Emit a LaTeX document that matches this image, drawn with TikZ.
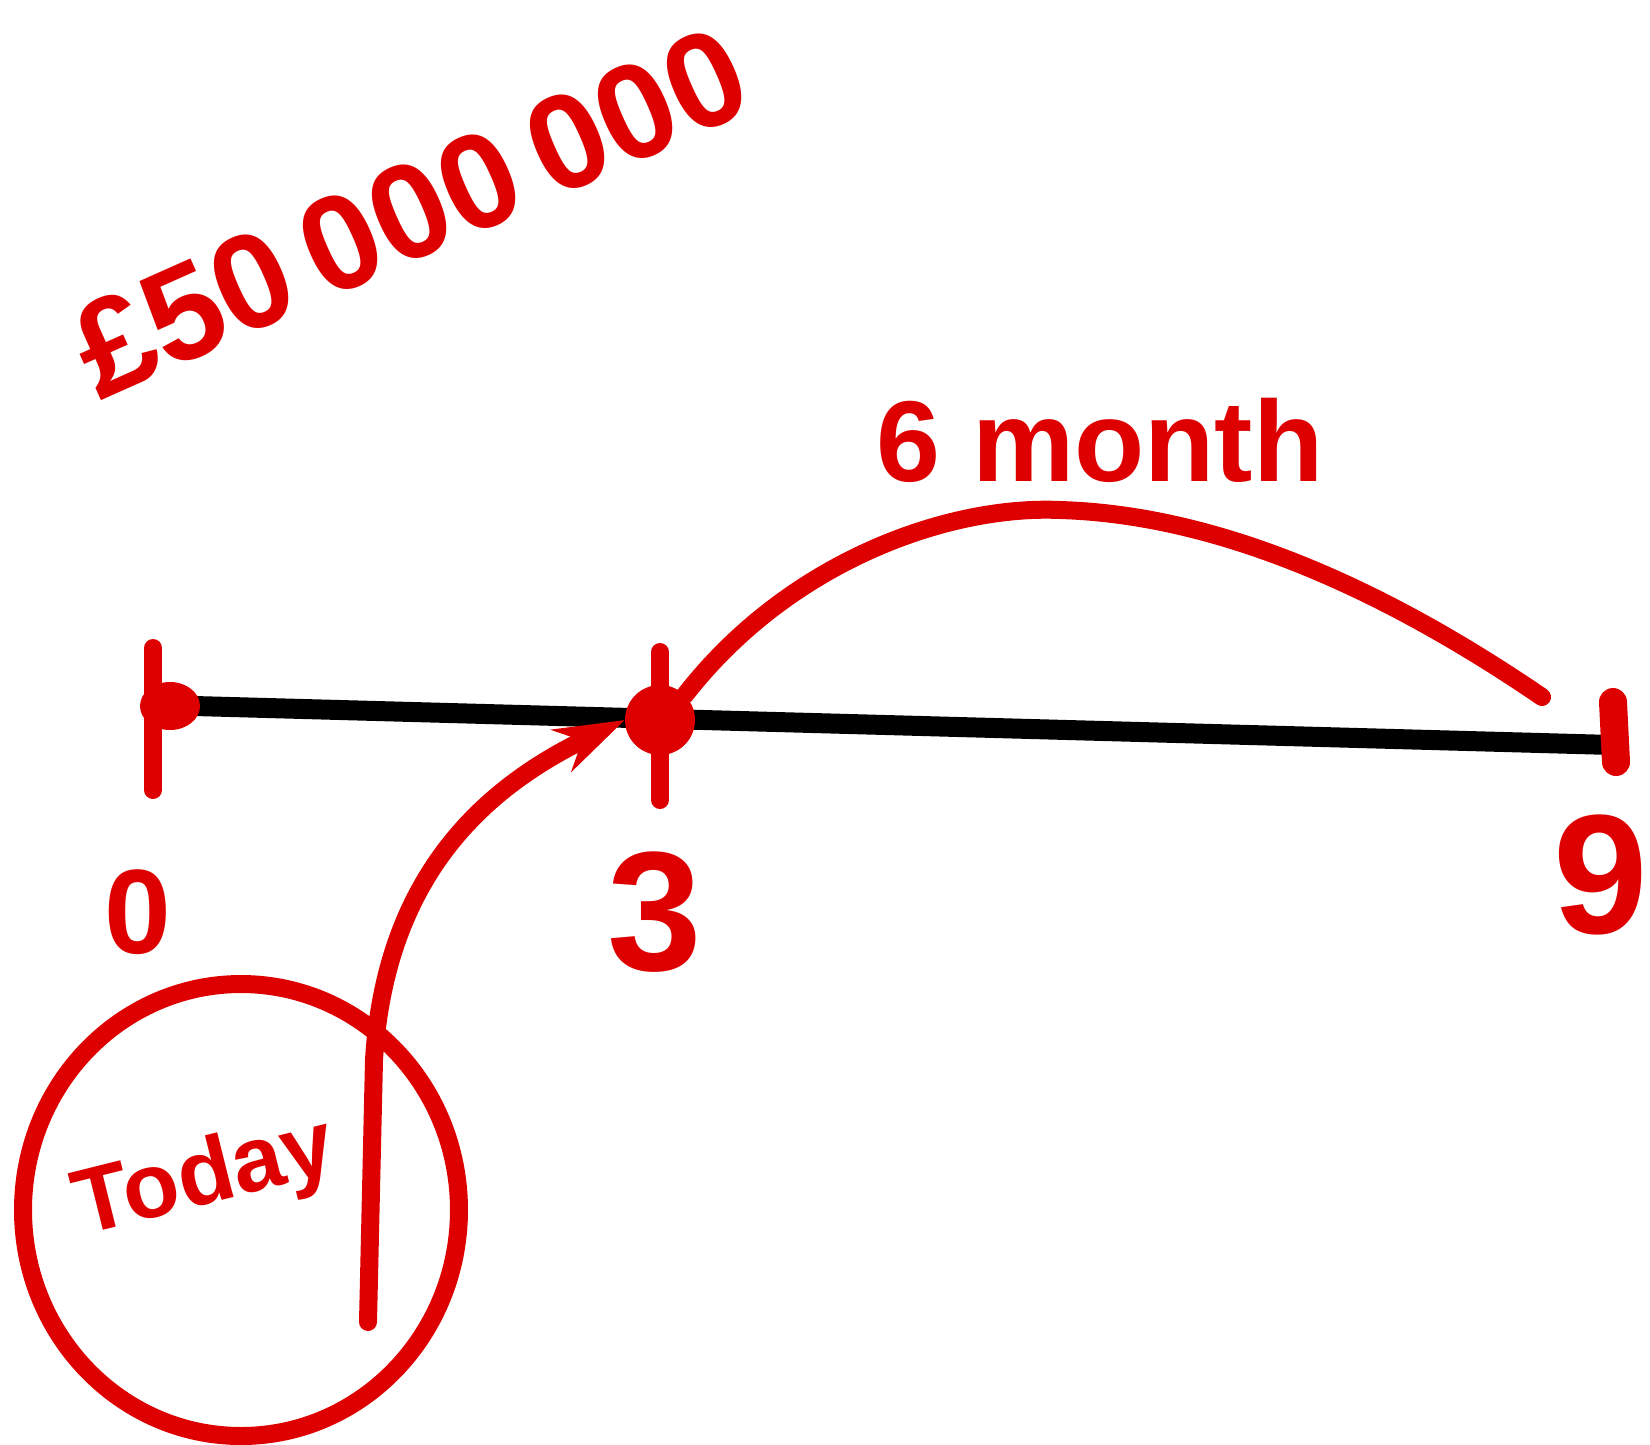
\documentclass[tikz,border=0pt]{standalone}
\usepackage{fontspec}
\setmainfont{Liberation Sans}
\usetikzlibrary{arrows.meta,shapes.geometric}
\definecolor{inkred}{RGB}{222,0,0}
\tikzset{
  redline/.style={draw=inkred, line width=18pt, line cap=round, line join=round},
  redtext/.style={text=inkred, inner sep=0pt, font=\bfseries},
}
\begin{document}
\begin{tikzpicture}[x=1pt,y=-1pt]
\useasboundingbox (0,0) rectangle (1650,1444);
% timeline
\coordinate (t0) at (158,705);
\coordinate (t9) at (1613,745);
\draw[line width=20pt] (t0) -- (t9);
% ticks
\draw[redline] (153,648) -- (153,790);
\fill[inkred] (170,706) ellipse (30pt and 24pt);
\node[circle, fill=inkred, minimum size=70pt, inner sep=0pt] (t3) at (660,720) {};
\draw[redline] (660,652) -- (660,800);
\draw[redline, line width=28pt] (1613,702) -- (1616,762);
% labels
\node[redtext, font=\bfseries\fontsize{120}{120}\selectfont] (l0) at (138,912) {0};
\node[redtext, font=\bfseries\fontsize{170}{170}\selectfont] (l3) at (655,912) {3};
\node[redtext, font=\bfseries\fontsize{170}{170}\selectfont, anchor=north east] (l9) at (1648,815) {9};
% money
\node[redtext, rotate=24, font=\bfseries\fontsize{135}{135}\selectfont] (money) at (410,212) {£50\,000\,000};
% 6 month arc
\coordinate (arcend) at (1542,697);
\draw[redline] (t3.north east) .. controls (790,560) and (950,505) .. (1060,510)
  .. controls (1230,515) and (1400,600) .. (arcend);
\node[redtext, font=\bfseries\fontsize{115}{115}\selectfont] (month) at (1100,440) {6 month};
% today
\node[draw=inkred, line width=18pt, ellipse, minimum width=436pt, minimum height=452pt, inner sep=0pt] (today) at (241,1210) {};
\node[redtext, rotate=14, font=\bfseries\fontsize{92}{92}\selectfont] (todaytext) at (205,1180) {Today};
% arrow
\coordinate (ytail) at (368,1322);
\draw[redline, -{Stealth[length=70pt,width=46pt]}] (ytail) -- (374,1060)
  .. controls (385,880) and (480,790) .. (t3.west);
\end{tikzpicture}
\end{document}
